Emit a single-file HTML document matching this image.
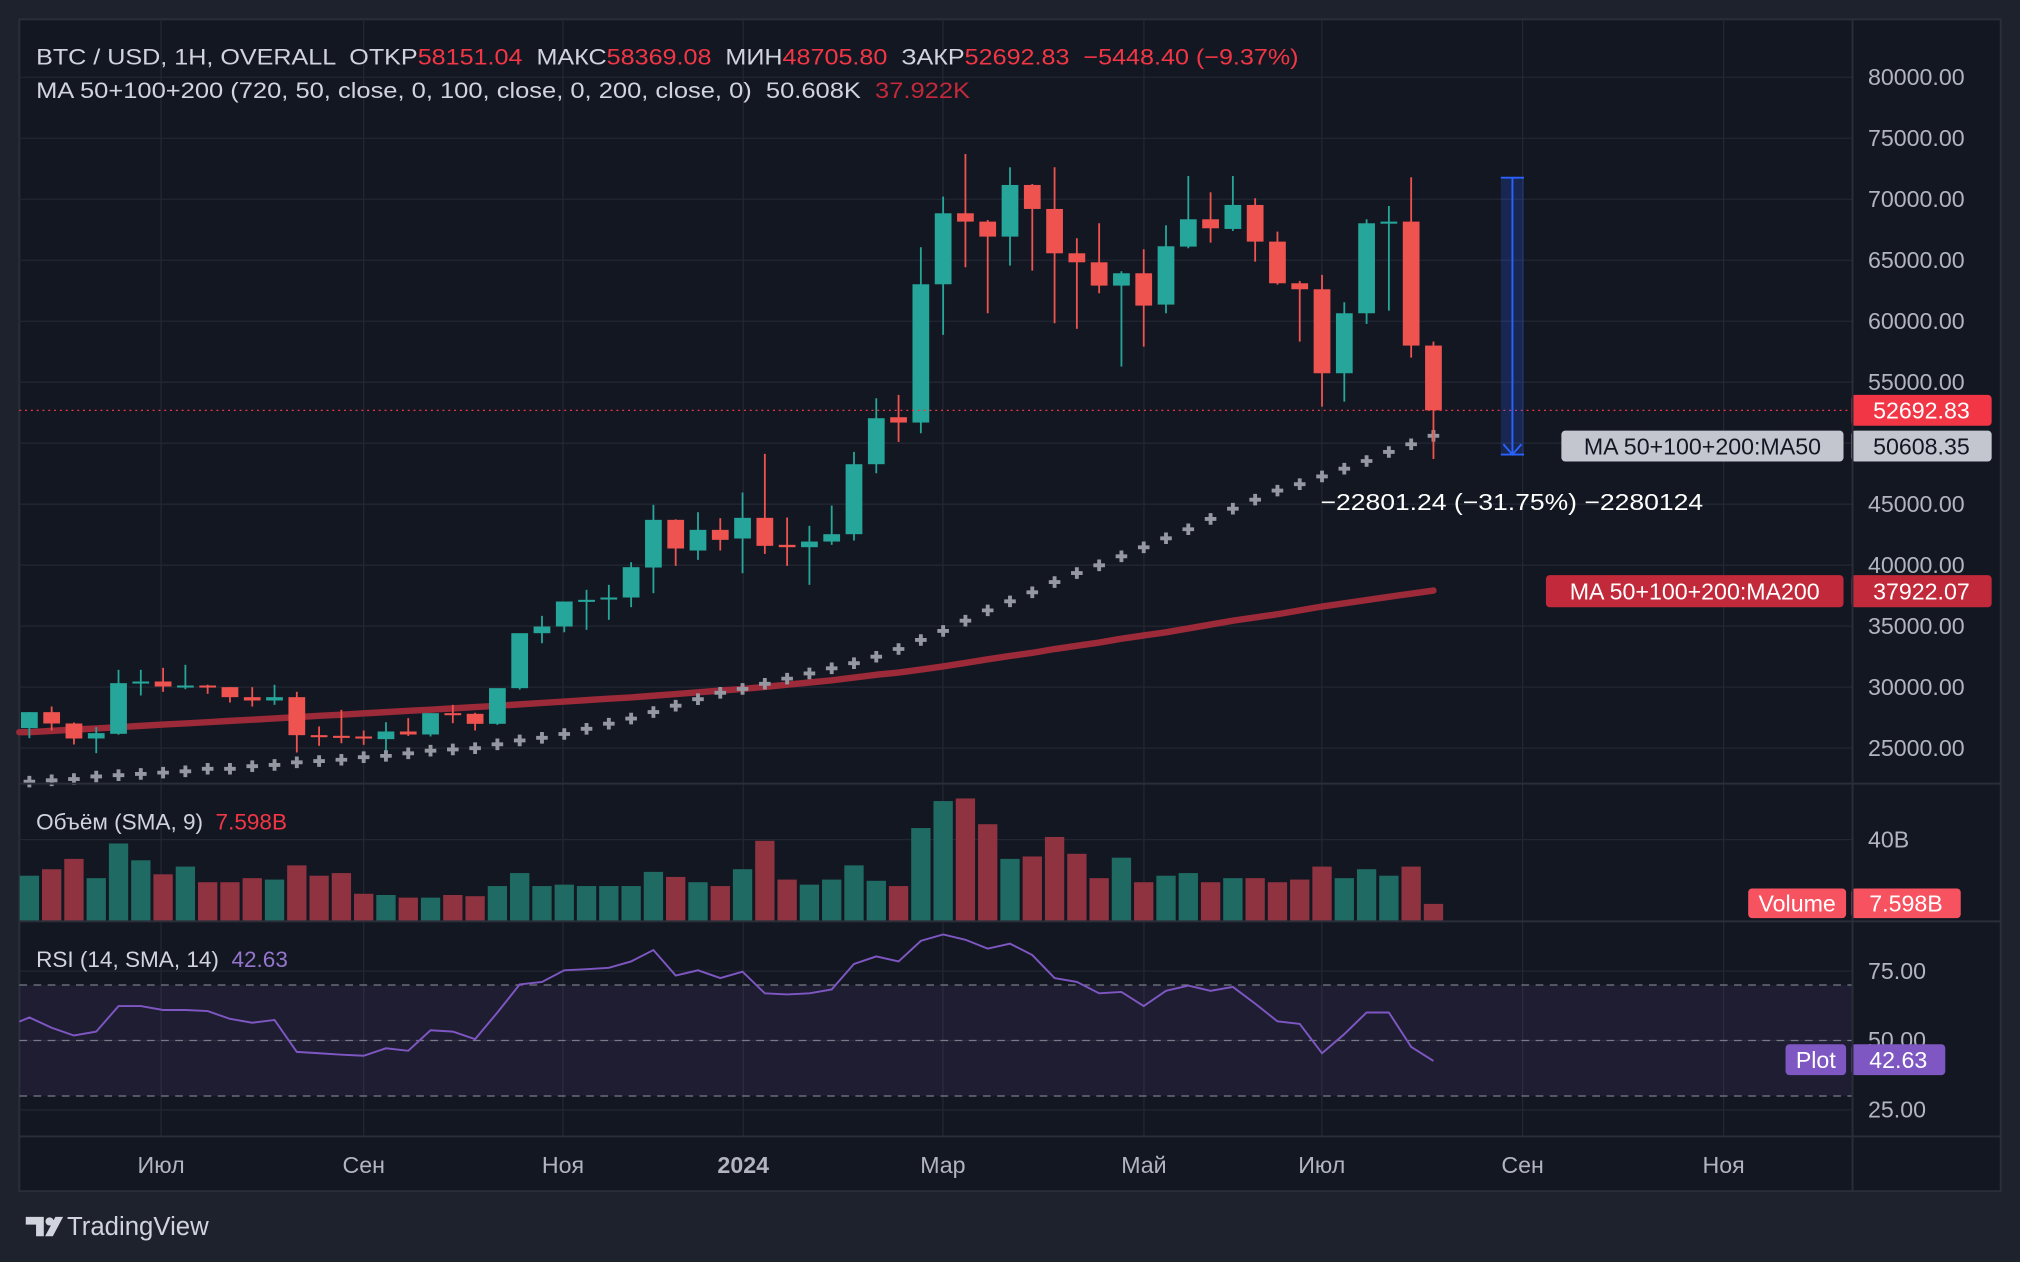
<!DOCTYPE html>
<html><head><meta charset="utf-8">
<style>
html,body{margin:0;padding:0;background:#1e222d;}
svg{display:block;}
text{font-family:"Liberation Sans",sans-serif;white-space:pre;}
</style></head>
<body>
<svg id="chart" xmlns="http://www.w3.org/2000/svg" width="2020" height="1262" viewBox="0 0 1568 980" preserveAspectRatio="none" xml:space="preserve">
  <rect x="0" y="0" width="1568" height="980" fill="#1e222d"/>
  <rect x="15" y="15" width="1538" height="910" fill="#131722" stroke="#2a2e39" stroke-width="1.5"/>
  <g id="grid"></g>
  <rect x="15" y="765" width="1423" height="86" fill="#7e57c2" fill-opacity="0.1"/>
  <g id="rsiLines"></g>
  <g id="vol"></g>
  <g id="ma200"></g>
  <g id="ma50"></g>
  <g id="candles"></g>
  <g id="rsi"></g>
  <g id="overlay"></g>
  <g id="axes"></g>

  <line x1="15" y1="608.5" x2="1553" y2="608.5" stroke="#2a2e39" stroke-width="1.5"/>
  <line x1="15" y1="715.5" x2="1553" y2="715.5" stroke="#2a2e39" stroke-width="1.5"/>
  <line x1="15" y1="882.5" x2="1553" y2="882.5" stroke="#2a2e39" stroke-width="1.5"/>
  <line x1="1438" y1="15" x2="1438" y2="925" stroke="#2a2e39" stroke-width="1.5"/>

  <text x="28" y="50" font-size="17.5" fill="#d1d4dc" textLength="980" lengthAdjust="spacingAndGlyphs">BTC / USD, 1H, OVERALL  OTKP<tspan fill="#f23645">58151.04</tspan>  МАКС<tspan fill="#f23645">58369.08</tspan>  МИН<tspan fill="#f23645">48705.80</tspan>  ЗАКР<tspan fill="#f23645">52692.83</tspan>  <tspan fill="#f23645">−5448.40 (−9.37%)</tspan></text>
  <text x="28" y="76" font-size="17.5" fill="#d1d4dc" textLength="725" lengthAdjust="spacingAndGlyphs">MA 50+100+200 (720, 50, close, 0, 100, close, 0, 200, close, 0)  50.608K  <tspan fill="#c2293a">37.922K</tspan></text>
  <text x="28" y="644" font-size="17.5" fill="#d1d4dc">Объём (SMA, 9)  <tspan fill="#f23645">7.598B</tspan></text>
  <text x="28" y="751" font-size="17.5" fill="#d1d4dc">RSI (14, SMA, 14)  <tspan fill="#9575cd">42.63</tspan></text>

  <g>
    <rect x="1165" y="138" width="18" height="215" fill="#2962ff" fill-opacity="0.22"/>
    <line x1="1174" y1="138" x2="1174" y2="353" stroke="#2962ff" stroke-width="1.5"/>
    <line x1="1165" y1="138" x2="1183" y2="138" stroke="#2962ff" stroke-width="1.5"/>
    <line x1="1165" y1="353" x2="1183" y2="353" stroke="#2962ff" stroke-width="1.5"/>
    <polyline points="1167,345 1174,353 1181,345" fill="none" stroke="#2962ff" stroke-width="1.5"/>
  </g>
  <text x="1025" y="396" font-size="18" fill="#ffffff" textLength="297" lengthAdjust="spacingAndGlyphs">−22801.24 (−31.75%) −2280124</text>

  <g>
    <path d="M20,945 h14 v15 h-6 v-9 h-8 z" fill="#d1d4dc"/>
    <circle cx="38.5" cy="948.5" r="3.2" fill="#d1d4dc"/>
    <path d="M43,945 h6 l-8,15 h-6 z" fill="#d1d4dc"/>
    <text x="52" y="959" font-size="20" fill="#d1d4dc">TradingView</text>
  </g>
</svg>
<script>
const categories = ["2023-05-22","2023-05-29","2023-06-05","2023-06-12","2023-06-19","2023-06-26","2023-07-03","2023-07-10","2023-07-17","2023-07-24","2023-07-31","2023-08-07","2023-08-14","2023-08-21","2023-08-28","2023-09-04","2023-09-11","2023-09-18","2023-09-25","2023-10-02","2023-10-09","2023-10-16","2023-10-23","2023-10-30","2023-11-06","2023-11-13","2023-11-20","2023-11-27","2023-12-04","2023-12-11","2023-12-18","2023-12-25","2024-01-01","2024-01-08","2024-01-15","2024-01-22","2024-01-29","2024-02-05","2024-02-12","2024-02-19","2024-02-26","2024-03-04","2024-03-11","2024-03-18","2024-03-25","2024-04-01","2024-04-08","2024-04-15","2024-04-22","2024-04-29","2024-05-06","2024-05-13","2024-05-20","2024-05-27","2024-06-03","2024-06-10","2024-06-17","2024-06-24","2024-07-01","2024-07-08","2024-07-15","2024-07-22","2024-07-29","2024-08-05"];
const openVals = [26638,27950,27021,25791,26173,30380,30463,30053,30135,29999,29179,28906,29179,26064,26009,25955,25737,26365,26119,27868,27813,26994,29917,34424,34971,37022,37300,37350,39808,43715,41200,42895,42185,43879,41666,41474,41938,42540,48277,52129,51692,63030,68849,68166,66936,71171,69204,65570,64832,62920,63931,61363,66117,68357,67565,69532,66527,63111,62620,55735,60653,68029,68166,58003];
const highVals = [27950,28414,27100,26720,31419,31419,31583,31829,30200,29999,29999,30190,29616,26775,28141,26447,27130,27458,27868,28551,27900,27700,30272,35845,35928,37978,38387,40245,44945,43760,44343,43852,45955,49124,43906,43223,44890,49288,53687,53959,66062,70215,73712,68300,72619,71250,72619,66800,68029,64100,65898,67865,71908,70570,71908,70078,67346,63300,63795,61554,68357,69450,71799,58330];
const lowVals = [25818,26447,25300,24589,26100,29316,29616,29835,29452,28742,28414,28551,24644,25190,25400,25272,24808,26000,25955,27048,26447,26900,29800,33600,34500,34700,35519,36557,37704,39945,40436,41200,39343,40928,39945,38387,41666,42020,47539,50107,50818,58877,64423,60653,64559,64149,59833,59368,62292,56281,57920,60653,65980,66444,67400,64887,63000,58330,53003,53413,59778,60871,57020,48705];
const closeVals = [27950,27021,25791,26228,30326,30463,30053,30135,29971,29179,28906,29179,26064,26009,25955,25818,26365,26119,27868,27813,26994,29917,34424,34971,37022,37159,37350,39835,43715,41366,42895,42076,43879,41584,41474,41938,42540,48277,52047,51692,63030,68849,68166,66937,71171,69204,65570,64832,62920,63931,61281,66144,68357,67619,69532,66527,63111,62620,55735,60653,68029,68166,58003,52692.83];
const volumeVals = [22.2,25.4,30.5,21.0,38.1,29.8,22.9,26.7,19.0,19.0,21.0,20.3,27.3,22.2,23.5,13.3,12.7,11.4,11.4,12.7,12.1,17.1,23.5,17.1,17.8,17.1,17.1,17.1,24.1,21.6,19.0,17.1,25.4,39.4,20.3,17.8,20.3,27.3,19.7,17.1,45.7,59.0,60.3,47.6,30.5,31.7,41.3,33.0,21.0,31.1,19.0,22.2,23.5,19.0,21.0,21.0,19.0,20.3,26.7,21.0,25.4,22.2,26.7,8.3];
const ma50Vals = [22253,22359,22464,22675,22781,22887,22992,23098,23309,23309,23520,23626,23837,23942,24048,24259,24365,24576,24787,24892,24998,25315,25631,25843,26159,26582,27004,27426,27954,28482,29010,29538,29854,30277,30699,31121,31543,31966,32493,33127,33866,34605,35449,36294,37033,37772,38617,39356,39989,40728,41467,42206,42945,43789,44634,45373,46112,46640,47273,47907,48540,49279,49913,50608];
const ma200Vals = [26307,26413,26518,26613,26719,26824,26930,27025,27130,27236,27331,27436,27542,27647,27742,27848,27953,28059,28154,28260,28365,28471,28587,28703,28819,28935,29051,29157,29294,29431,29579,29716,29854,30022,30202,30381,30561,30783,31015,31194,31437,31701,31986,32282,32556,32810,33127,33391,33655,33971,34235,34499,34816,35133,35449,35713,35977,36294,36611,36875,37139,37403,37667,37922];
const rsiVals = [58.3,54.6,51.8,53.2,62.4,62.4,61.0,61.0,60.6,57.8,56.4,57.4,45.9,45.4,44.9,44.5,47.2,46.3,53.7,53.2,50.5,60.1,70.2,71.1,75.3,75.7,76.2,78.5,82.6,73.4,75.3,72.5,74.8,67.0,66.6,67.0,68.4,77.6,80.3,78.5,85.9,88.2,86.3,83.1,84.9,80.8,72.5,71.1,67.0,67.5,62.4,67.9,69.8,67.9,69.3,63.3,56.9,56.0,45.4,52.3,60.1,60.1,47.7,42.63];
const priceTicks = [80000,75000,70000,65000,60000,55000,50000,45000,40000,35000,30000,25000];
const priceTickLabels = ["80000.00","75000.00","70000.00","65000.00","60000.00","55000.00","50000.00","45000.00","40000.00","35000.00","30000.00","25000.00"];
const timeTickLabels = ["Июл","Сен","Ноя","2024","Мар","Май","Июл","Сен","Ноя"];
const timeTickIndex = [5.91,15.0,23.94,32.03,40.99,50.01,57.99,67.0,76.02];
const rsiTicks = [75,50,25];
const rsiLevels = [70,50,30];
const lastPrice = 52692.83;

const X0 = 22.8, STEP = 17.3;
const xOf = i => X0 + STEP * i;
const yPrice = p => 60 + (80000 - p) / 5000 * 47.36;
const yVol = v => 715 - v * 1.575;
const yRsi = r => 808 - (r - 50) * 2.155;

const NS = "http://www.w3.org/2000/svg";
function mk(tag, attrs, parent) {
  const el = document.createElementNS(NS, tag);
  for (const k in attrs) el.setAttribute(k, attrs[k]);
  parent.appendChild(el);
  return el;
}
const G = id => document.getElementById(id);
const UP = "#26a69a", DN = "#ef5350";

const grid = G("grid");
priceTicks.forEach(p => {
  const l = mk("line", {x1:15, x2:1438, y1:yPrice(p), y2:yPrice(p), stroke:"#232733", "stroke-width":1}, grid);
  
  
});
rsiTicks.forEach(r => {
  const l = mk("line", {x1:15, x2:1438, y1:yRsi(r), y2:yRsi(r), stroke:"#232733", "stroke-width":1}, grid);
  
  
});
{
  const l = mk("line", {x1:15, x2:1438, y1:652, y2:652, stroke:"#232733", "stroke-width":1}, grid);
  
  
}
timeTickIndex.forEach(t => {
  const l = mk("line", {x1:xOf(t), x2:xOf(t), y1:15, y2:882, stroke:"#232733", "stroke-width":1}, grid);
  
  
});

const rl = G("rsiLines");
rsiLevels.forEach(r => {
  const l = mk("line", {x1:15, x2:1438, y1:yRsi(r), y2:yRsi(r), stroke:"#787b86", "stroke-width":1, "stroke-dasharray":"6 5"}, rl);
  
  
});

const vol = G("vol");
volumeVals.forEach((v, i) => {
  const up = closeVals[i] >= openVals[i];
  const r = mk("rect", {x:xOf(i) - 7.5, y:yVol(v), width:15, height:715 - yVol(v), fill: up ? "#1f6b64" : "#8f3340"}, vol);
  
  
});

{
  const pts = ma200Vals.map((v, i) => xOf(i) + "," + yPrice(v)).join(" ");
  const pl = mk("polyline", {points: "15," + yPrice(ma200Vals[0]) + " " + pts, fill:"none", stroke:"#9c2a38", "stroke-width":5, "stroke-linecap":"round", "stroke-linejoin":"round"}, G("ma200"));
  
  
}

const m50 = G("ma50");
ma50Vals.forEach((v, i) => {
  const x = xOf(i), y = yPrice(v);
  const p = mk("path", {d:`M${x-4.5},${y}h9M${x},${y-4.5}v9`, stroke:"#9598a1", "stroke-width":3}, m50);
  
  
});

const cg = G("candles");
openVals.forEach((o, i) => {
  const c = closeVals[i], h = highVals[i], l = lowVals[i];
  const col = c >= o ? UP : DN;
  const x = xOf(i);
  const g = mk("g", {}, cg);
  
  
  mk("line", {x1:x, x2:x, y1:yPrice(h), y2:yPrice(l), stroke:col, "stroke-width":1.4}, g);
  const top = yPrice(Math.max(o, c)), bot = yPrice(Math.min(o, c));
  mk("rect", {x:x - 6.5, y:top, width:13, height:Math.max(bot - top, 1.6), fill:col}, g);
});

{
  const pts = rsiVals.map((v, i) => xOf(i) + "," + yRsi(v)).join(" ");
  const pl = mk("polyline", {points: "15," + yRsi(rsiVals[0] - 1.5) + " " + pts, fill:"none", stroke:"#7e57c2", "stroke-width":1.5}, G("rsi"));
  
  
}

{
  const l = mk("line", {x1:15, x2:1438, y1:yPrice(lastPrice), y2:yPrice(lastPrice), stroke:"#f23645", "stroke-width":1, "stroke-dasharray":"1.5 3"}, G("overlay"));
  
  
}

const ax = G("axes");
priceTicks.forEach((p, i) => {
  const t = mk("text", {x:1450, y:yPrice(p) + 6, "font-size":18, fill:"#b2b5be"}, ax);
  t.textContent = priceTickLabels[i];
  
  
});
{
  const t = mk("text", {x:1450, y:658, "font-size":18, fill:"#b2b5be"}, ax);
  t.textContent = "40B";
  
  
}
rsiTicks.forEach(r => {
  const t = mk("text", {x:1450, y:yRsi(r) + 6, "font-size":18, fill:"#b2b5be"}, ax);
  t.textContent = r.toFixed(2);
  
  
});
timeTickLabels.forEach((s, i) => {
  const t = mk("text", {x:xOf(timeTickIndex[i]), y:911, "font-size":18, fill:"#b2b5be", "text-anchor":"middle", "font-weight": s === "2024" ? "bold" : "normal"}, ax);
  t.textContent = s;
  
  
});

function badge(x, y, w, h, fill, txt, tcol, name) {
  const g = mk("g", {}, ax);
  
  
  mk("rect", {x:x, y:y, width:w, height:h, rx:3, fill:fill}, g);
  const t = mk("text", {x:x + w / 2, y:y + h / 2 + 6.5, "font-size":18, fill:tcol, "text-anchor":"middle"}, g);
  t.textContent = txt;
}
const lp = yPrice(lastPrice);
badge(1437, lp - 12, 109, 24, "#f23645", "52692.83", "#ffffff", "last-price-badge");
const m50y = yPrice(ma50Vals[ma50Vals.length - 1]) + 8;
badge(1212, m50y - 12, 219, 24, "#c3c6ce", "MA 50+100+200:MA50", "#131722", "ma50-name-badge");
badge(1437, m50y - 12, 109, 24, "#c3c6ce", "50608.35", "#131722", "ma50-value-badge");
const m200y = yPrice(ma200Vals[ma200Vals.length - 1]);
badge(1200, m200y - 12, 231, 25, "#c2293a", "MA 50+100+200:MA200", "#ffffff", "ma200-name-badge");
badge(1437, m200y - 12, 109, 25, "#c2293a", "37922.07", "#ffffff", "ma200-value-badge");
badge(1357, 690, 76, 23, "#f7525f", "Volume", "#ffffff", "volume-name-badge");
badge(1437, 690, 85, 23, "#f7525f", "7.598B", "#ffffff", "volume-value-badge");
const ry = yRsi(rsiVals[rsiVals.length - 1]) - 1;
badge(1386, ry - 12, 47, 24, "#7e57c2", "Plot", "#ffffff", "rsi-name-badge");
badge(1437, ry - 12, 73, 24, "#7e57c2", "42.63", "#ffffff", "rsi-value-badge");
</script>
</body></html>
